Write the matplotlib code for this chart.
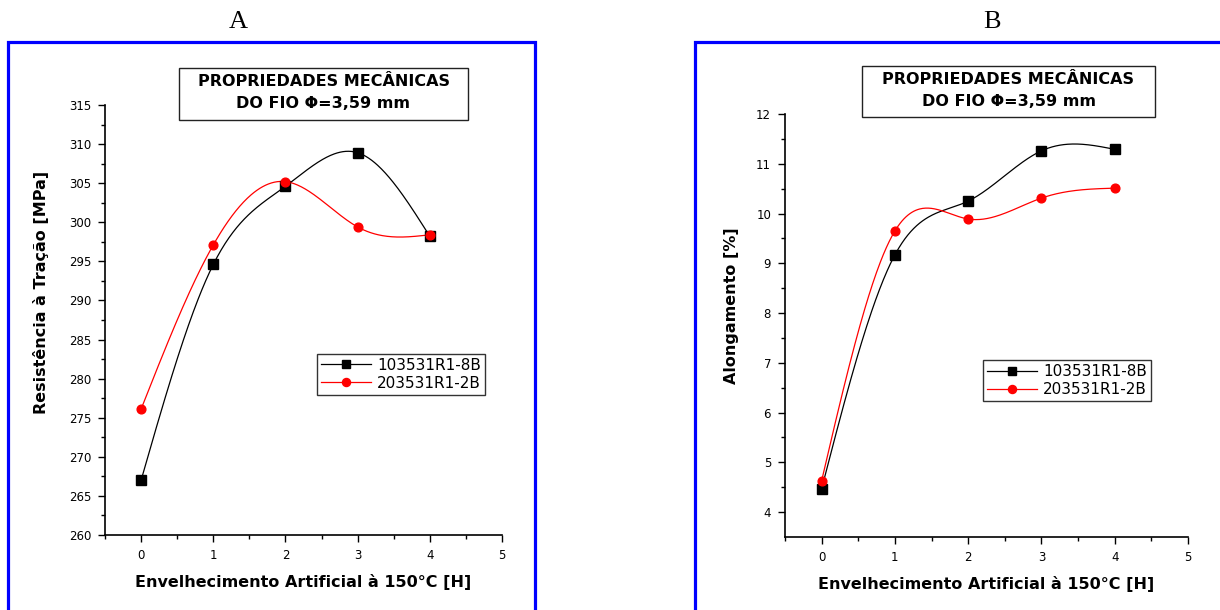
import numpy as np
import matplotlib
matplotlib.use("Agg")
import matplotlib.pyplot as plt
from matplotlib.patches import Rectangle
from matplotlib.lines import Line2D

# ---------------- data ----------------
hours = [0, 1, 2, 3, 4]
series_names = ["103531R1-8B", "203531R1-2B"]
tensile_black = [267.0, 294.6, 304.6, 308.9, 298.2]
tensile_red = [276.1, 297.1, 305.2, 299.4, 298.4]
elong_black = [4.47, 9.17, 10.25, 11.26, 11.29]
elong_red = [4.63, 9.65, 9.89, 10.31, 10.51]
panel_titles = ["A", "B"]
box_lines = ["PROPRIEDADES MECÂNICAS", "DO FIO \u03a6=3,59 mm"]
xlabel = "Envelhecimento Artificial à 150°C [H]"
ylabel_a = "Resistência à Tração [MPa]"
ylabel_b = "Alongamento [%]"


def natural_spline(x, y, xs):
    x = np.asarray(x, float)
    y = np.asarray(y, float)
    n = len(x)
    h = np.diff(x)
    A = np.zeros((n, n))
    r = np.zeros(n)
    A[0, 0] = 1
    A[-1, -1] = 1
    for i in range(1, n - 1):
        A[i, i - 1] = h[i - 1]
        A[i, i] = 2 * (h[i - 1] + h[i])
        A[i, i + 1] = h[i]
        r[i] = 6 * ((y[i + 1] - y[i]) / h[i] - (y[i] - y[i - 1]) / h[i - 1])
    M = np.linalg.solve(A, r)
    out = np.empty_like(xs)
    for k, xv in enumerate(xs):
        i = min(max(np.searchsorted(x, xv) - 1, 0), n - 2)
        t1 = x[i + 1] - xv
        t0 = xv - x[i]
        out[k] = (M[i] * t1 ** 3 / (6 * h[i]) + M[i + 1] * t0 ** 3 / (6 * h[i])
                  + (y[i] / h[i] - M[i] * h[i] / 6) * t1
                  + (y[i + 1] / h[i] - M[i + 1] * h[i] / 6) * t0)
    return out


W, H = 1220, 610
fig = plt.figure(figsize=(W / 100, H / 100), dpi=100)
fig.patch.set_facecolor("white")

FONT = "DejaVu Sans"


def fx(px):
    return px / W


def fy(py):
    return 1 - py / H


# blue frames
for (x0, x1) in [(8, 535), (695, 1230)]:
    fig.patches.append(Rectangle((fx(x0), fy(640)), fx(x1 - x0), (640 - 42) / H,
                                 transform=fig.transFigure, fill=False,
                                 edgecolor="#0000ff", linewidth=2.3, zorder=0))

# panel letters
fig.text(fx(238), fy(22), panel_titles[0], family="Liberation Serif", fontsize=19,
         ha="center", va="center")
fig.text(fx(992), fy(22), panel_titles[1], family="Liberation Serif", fontsize=19,
         ha="center", va="center")

# title boxes
for (bx0, by0, bx1, by1) in [(179, 68, 468, 120), (862, 66, 1155, 117)]:
    fig.patches.append(Rectangle((fx(bx0), fy(by1)), fx(bx1 - bx0), (by1 - by0) / H,
                                 transform=fig.transFigure, fill=False,
                                 edgecolor="#222222", linewidth=1.0))
    cx = fx((bx0 + bx1) / 2)
    fig.text(cx, fy(by0 + 14), box_lines[0], family=FONT, fontweight="bold",
             fontsize=11.5, ha="center", va="center")
    fig.text(cx, fy(by0 + 36), box_lines[1], family=FONT, fontweight="bold",
             fontsize=11.5, ha="center", va="center")


def style_axes(ax, ylim, yticks, yminor):
    ax.set_xlim(-0.5, 5)
    ax.set_ylim(*ylim)
    ax.spines["top"].set_visible(False)
    ax.spines["right"].set_visible(False)
    for s in ("left", "bottom"):
        ax.spines[s].set_linewidth(1.2)
    ax.set_xticks([0, 1, 2, 3, 4, 5])
    ax.set_xticks([-0.5, 0.5, 1.5, 2.5, 3.5, 4.5], minor=True)
    ax.set_yticks(yticks)
    ax.set_yticks(yminor, minor=True)
    ax.tick_params(axis="both", which="major", direction="out", length=5,
                   width=1.0, labelsize=8.5, pad=5)
    ax.tick_params(axis="both", which="minor", direction="out", length=3, width=1.0)
    for lab in ax.get_xticklabels() + ax.get_yticklabels():
        lab.set_family(FONT)
    ax.set_xlabel(xlabel, family=FONT, fontweight="bold", fontsize=11.5, labelpad=9)


xs = np.linspace(0, 4, 300)
MS_SQ = 6.5
MS_CI = 6.3

# ---- panel A ----
axA = fig.add_axes([fx(105), fy(535), fx(397), 430 / H])
axA.plot(xs, natural_spline(hours, tensile_black, xs), color="black", lw=0.9)
axA.plot(xs, natural_spline(hours, tensile_red, xs), color="red", lw=0.9)
axA.plot(hours, tensile_black, "s", color="black", ms=MS_SQ, lw=0)
axA.plot(hours, tensile_red, "o", color="red", ms=MS_CI, lw=0)
style_axes(axA, (260, 315), list(range(260, 316, 5)), list(np.arange(262.5, 315, 5)))
axA.set_ylabel(ylabel_a, family=FONT, fontweight="bold", fontsize=11.5)
axA.yaxis.set_label_coords(-0.14, 0.563)

# ---- panel B ----
axB = fig.add_axes([fx(785), fy(537), fx(403), 423 / H])
axB.plot(xs, natural_spline(hours, elong_black, xs), color="black", lw=0.9)
axB.plot(xs, natural_spline(hours, elong_red, xs), color="red", lw=0.9)
axB.plot(hours, elong_black, "s", color="black", ms=MS_SQ, lw=0)
axB.plot(hours, elong_red, "o", color="red", ms=MS_CI, lw=0)
style_axes(axB, (3.5, 12), list(range(4, 13)), list(np.arange(4.5, 12, 1)))
axB.set_ylabel(ylabel_b, family=FONT, fontweight="bold", fontsize=11.5)
axB.yaxis.set_label_coords(-0.115, 0.546)

# legends
handles = [Line2D([], [], color="black", lw=0.9, marker="s", ms=MS_SQ - 0.5),
           Line2D([], [], color="red", lw=0.9, marker="o", ms=MS_CI - 0.5)]
for ax, anchor in [(axA, (0.534, 0.421)), (axB, (0.491, 0.418))]:
    leg = ax.legend(handles, series_names, loc="upper left", bbox_to_anchor=anchor,
                    prop={"family": FONT, "size": 11}, fancybox=False,
                    edgecolor="#333333", framealpha=1, handlelength=3.3,
                    borderpad=0.25, labelspacing=0.2, handletextpad=0.4,
                    borderaxespad=0)
    leg.get_frame().set_linewidth(1.0)

fig.savefig("out.png", dpi=100)
